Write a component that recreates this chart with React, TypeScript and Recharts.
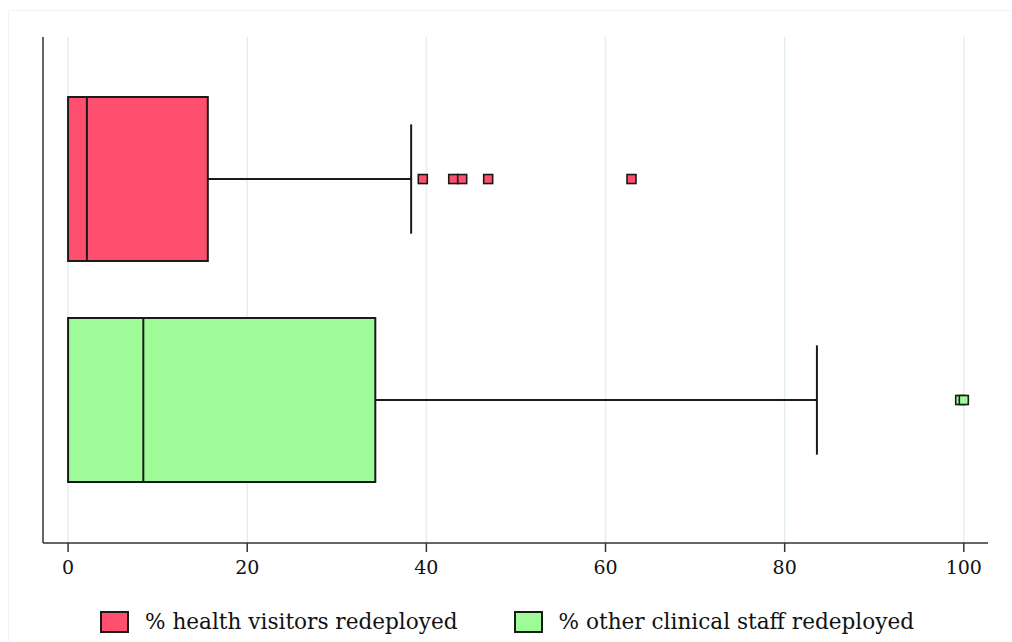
import React from 'react';
import {
  CartesianGrid,
  ComposedChart,
  ReferenceArea,
  ReferenceLine,
  Scatter,
  XAxis,
  YAxis,
} from 'recharts';

// Box plot summaries, % redeployed
const groups = ['% health visitors redeployed', '% other clinical staff redeployed'];
const lowerWhisker = [0, 0];
const q1 = [0, 0];
const median = [2.1, 8.4];
const q3 = [15.6, 34.3];
const upperWhisker = [38.3, 83.6];
const outliers = [
  [39.6, 43.0, 44.0, 46.9, 62.9],
  [99.6, 100],
];
const xTicks = [0, 20, 40, 60, 80, 100];
const xDomain = [-2.8, 102.7];

const fills = ['#ff4f6f', '#9dfc98'];
const STROKE = '#1a1a1a';
const AXIS = '#333';
const FONT = '"DejaVu Serif", "Liberation Serif", serif';

// vertical layout of the rows on a 0..1 axis (0 at top)
const rowCenter = [0.2807, 0.7174];
const boxHalf = 0.162;
const capHalf = 0.108;

const outlierPoints = outliers.map((vals, i) =>
  vals.map((v) => ({ value: v, row: rowCenter[i] }))
);

function OutlierMark(props: any) {
  const { cx, cy, fill } = props;
  if (cx == null || cy == null) return null;
  return (
    <rect
      x={cx - 4.5}
      y={cy - 4.5}
      width={9}
      height={9}
      fill={fill}
      stroke={STROKE}
      strokeWidth={1.6}
    />
  );
}

// grid only at the labelled ticks
const gridX = ({ xAxis }: any) => {
  const scale = xAxis?.scale;
  if (typeof scale === 'function') return xTicks.map((t) => scale(t));
  if (scale && typeof scale.map === 'function') return xTicks.map((t) => scale.map(t));
  return [];
};

export default function App() {
  return (
    <div style={{ position: 'absolute', left: 0, top: 0, width: 1012, height: 642, background: '#fff' }}>
      <svg
        width={1012}
        height={642}
        style={{ position: 'absolute', left: 0, top: 0 }}
      >
        <rect x={8.5} y={10.5} width={1010} height={640} fill="none" stroke="#f1f4f6" />
      </svg>
      <ComposedChart
        width={1012}
        height={642}
        margin={{ top: 37, right: 24, bottom: 49, left: 43 }}
        style={{ position: 'absolute', left: 0, top: 0 }}
      >
        <CartesianGrid
          horizontal={false}
          stroke="#e4eef0"
          strokeWidth={1.5}
          verticalCoordinatesGenerator={gridX}
        />
        <XAxis
          type="number"
          dataKey="value"
          domain={xDomain}
          ticks={xTicks}
          allowDataOverflow
          height={50}
          tickSize={9}
          tickMargin={9}
          axisLine={{ stroke: AXIS, strokeWidth: 1.5 }}
          tickLine={{ stroke: AXIS, strokeWidth: 1.5 }}
          tick={{ fill: '#111', fontSize: 19, fontFamily: FONT }}
        />
        <YAxis
          type="number"
          dataKey="row"
          domain={[0, 1]}
          reversed
          width={0}
          tick={false}
          tickLine={false}
          axisLine={false}
        />
        {/* left axis line */}
        <ReferenceLine x={xDomain[0]} stroke={AXIS} strokeWidth={1.5} />
        {groups.map((g, i) => (
          <React.Fragment key={g}>
            {/* whiskers */}
            <ReferenceLine
              segment={[
                { x: upperWhisker[i], y: rowCenter[i] },
                { x: q3[i], y: rowCenter[i] },
              ]}
              stroke={STROKE}
              strokeWidth={2}
            />
            <ReferenceLine
              segment={[
                { x: lowerWhisker[i], y: rowCenter[i] },
                { x: q1[i], y: rowCenter[i] },
              ]}
              stroke={STROKE}
              strokeWidth={2}
            />
            <ReferenceLine
              segment={[
                { x: upperWhisker[i], y: rowCenter[i] - capHalf },
                { x: upperWhisker[i], y: rowCenter[i] + capHalf },
              ]}
              stroke={STROKE}
              strokeWidth={2}
            />
            {/* box */}
            <ReferenceArea
              x1={q1[i]}
              x2={q3[i]}
              y1={rowCenter[i] - boxHalf}
              y2={rowCenter[i] + boxHalf}
              fill={fills[i]}
              fillOpacity={1}
              stroke={STROKE}
              strokeWidth={2}
            />
            <ReferenceLine
              segment={[
                { x: median[i], y: rowCenter[i] - boxHalf },
                { x: median[i], y: rowCenter[i] + boxHalf },
              ]}
              stroke={STROKE}
              strokeWidth={2}
            />
            <Scatter
              data={outlierPoints[i]}
              dataKey="value"
              fill={fills[i]}
              shape={<OutlierMark />}
              isAnimationActive={false}
            />
          </React.Fragment>
        ))}
      </ComposedChart>
      <div
        style={{
          position: 'absolute',
          top: 609,
          left: 100,
          display: 'flex',
          alignItems: 'center',
          fontFamily: FONT,
          fontSize: 21.6,
          color: '#111',
        }}
      >
        {groups.map((g, i) => (
          <div key={g} style={{ display: 'flex', alignItems: 'center', marginRight: i === 0 ? 56 : 0 }}>
            <span
              style={{
                display: 'inline-block',
                width: 25,
                height: 18,
                background: fills[i],
                border: `2px solid ${STROKE}`,
                marginRight: 16,
              }}
            />
            <span>{g}</span>
          </div>
        ))}
      </div>
    </div>
  );
}
